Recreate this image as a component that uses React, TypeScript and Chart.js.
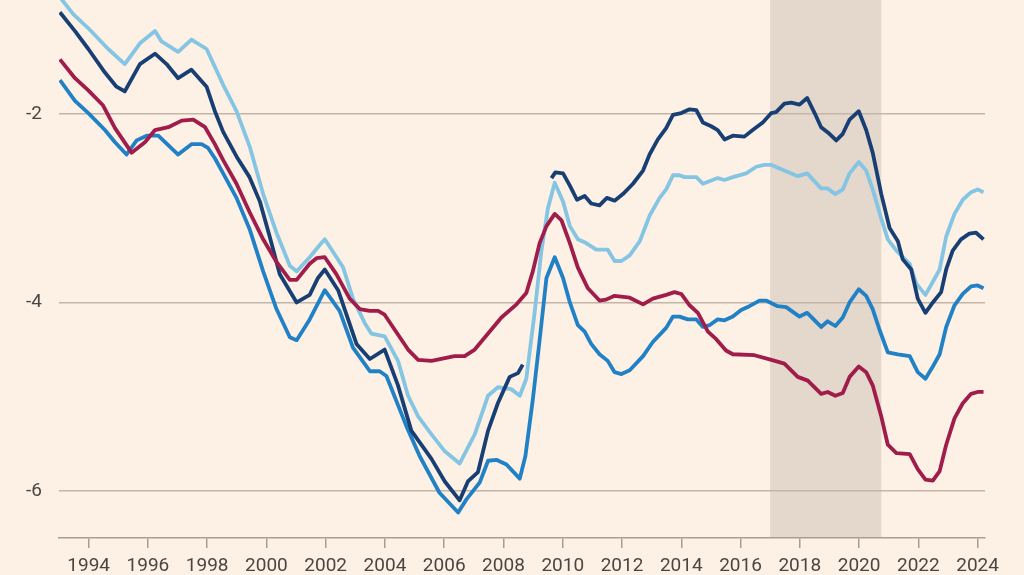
import { useEffect, useRef } from "react";
import { Chart, registerables } from "chart.js";

Chart.register(...registerables);

// [year, value] readings for each series
const navySeries: [number, number | null][] = [
  [1993.03, -0.92], [1993.54, -1.12], [1993.99, -1.31], [1994.55, -1.56], [1994.94, -1.71], [1995.22, -1.76],
  [1995.73, -1.47], [1996.24, -1.36], [1996.63, -1.47], [1997.02, -1.62], [1997.47, -1.53], [1997.98, -1.71],
  [1998.26, -1.97], [1998.54, -2.19], [1998.99, -2.45], [1999.43, -2.67], [1999.78, -2.93], [2000.11, -3.3],
  [2000.45, -3.7], [2001.02, -4.0], [2001.46, -3.92], [2001.74, -3.74], [2001.97, -3.65], [2002.42, -3.87],
  [2003.04, -4.44], [2003.49, -4.6], [2003.99, -4.5], [2004.44, -4.88], [2004.89, -5.36], [2005.57, -5.66],
  [2006.02, -5.9], [2006.52, -6.1], [2006.8, -5.9], [2007.14, -5.8], [2007.48, -5.36], [2007.81, -5.07],
  [2008.21, -4.79], [2008.49, -4.75], [2008.65, -4.66], [2009.1, null], [2009.62, -2.68], [2009.75, -2.62],
  [2010.01, -2.63], [2010.24, -2.76], [2010.48, -2.91], [2010.74, -2.87], [2010.96, -2.95], [2011.24, -2.97],
  [2011.49, -2.89], [2011.75, -2.92], [2012.03, -2.85], [2012.37, -2.74], [2012.71, -2.6], [2012.93, -2.43],
  [2013.21, -2.27], [2013.49, -2.15], [2013.72, -2.01], [2014.0, -1.99], [2014.28, -1.95], [2014.51, -1.96],
  [2014.73, -2.09], [2015.01, -2.13], [2015.23, -2.17], [2015.46, -2.27], [2015.74, -2.23], [2016.13, -2.24],
  [2016.41, -2.17], [2016.75, -2.09], [2017.04, -1.99], [2017.2, -1.98], [2017.48, -1.89], [2017.71, -1.88],
  [2017.99, -1.9], [2018.25, -1.83], [2018.5, -1.99], [2018.72, -2.14], [2019.0, -2.21], [2019.23, -2.28],
  [2019.45, -2.21], [2019.68, -2.06], [2019.99, -1.97], [2020.24, -2.17], [2020.46, -2.41], [2020.75, -2.85],
  [2021.03, -3.21], [2021.31, -3.35], [2021.47, -3.54], [2021.76, -3.65], [2021.98, -3.96], [2022.24, -4.11],
  [2022.49, -4.0], [2022.77, -3.89], [2022.94, -3.65], [2023.16, -3.45], [2023.44, -3.33], [2023.72, -3.27],
  [2023.95, -3.26], [2024.2, -3.33],
];

const lightBlueSeries: [number, number][] = [
  [1993.03, -0.76], [1993.48, -0.94], [1993.99, -1.09], [1994.66, -1.31], [1995.22, -1.47], [1995.73, -1.25],
  [1996.24, -1.12], [1996.46, -1.23], [1997.02, -1.34], [1997.47, -1.21], [1997.98, -1.31], [1998.26, -1.5],
  [1998.54, -1.69], [1998.99, -1.97], [1999.43, -2.34], [1999.89, -2.85], [2000.34, -3.26], [2000.79, -3.61],
  [2001.02, -3.67], [2001.46, -3.52], [2001.8, -3.39], [2001.97, -3.33], [2002.59, -3.63], [2002.92, -3.96],
  [2003.32, -4.22], [2003.54, -4.33], [2003.99, -4.36], [2004.44, -4.62], [2004.78, -4.99], [2005.12, -5.21],
  [2005.57, -5.4], [2006.02, -5.58], [2006.52, -5.71], [2007.03, -5.4], [2007.48, -4.99], [2007.81, -4.9],
  [2008.26, -4.92], [2008.55, -4.99], [2008.77, -4.81], [2009.05, -4.11], [2009.28, -3.45], [2009.5, -3.0],
  [2009.73, -2.73], [2010.01, -2.93], [2010.24, -3.19], [2010.51, -3.33], [2010.79, -3.37], [2011.13, -3.44],
  [2011.52, -3.44], [2011.75, -3.56], [2011.98, -3.56], [2012.26, -3.5], [2012.6, -3.35], [2012.93, -3.08],
  [2013.27, -2.89], [2013.49, -2.8], [2013.72, -2.65], [2013.94, -2.65], [2014.11, -2.67], [2014.51, -2.67],
  [2014.73, -2.74], [2015.23, -2.68], [2015.46, -2.7], [2015.74, -2.67], [2016.19, -2.63], [2016.53, -2.56],
  [2016.81, -2.54], [2017.04, -2.54], [2017.48, -2.6], [2017.93, -2.66], [2018.25, -2.63], [2018.72, -2.79],
  [2018.94, -2.79], [2019.2, -2.85], [2019.45, -2.8], [2019.68, -2.63], [2019.99, -2.51], [2020.24, -2.6],
  [2020.46, -2.8], [2020.75, -3.11], [2020.97, -3.33], [2021.26, -3.45], [2021.71, -3.59], [2021.93, -3.8],
  [2022.24, -3.92], [2022.49, -3.78], [2022.72, -3.65], [2022.94, -3.3], [2023.22, -3.06], [2023.5, -2.91],
  [2023.78, -2.83], [2024.0, -2.8], [2024.2, -2.83],
];

const crimsonSeries: [number, number][] = [
  [1993.03, -1.42], [1993.54, -1.62], [1993.99, -1.75], [1994.49, -1.91], [1994.89, -2.15], [1995.45, -2.41],
  [1995.9, -2.3], [1996.24, -2.17], [1996.69, -2.14], [1997.14, -2.07], [1997.53, -2.06], [1997.93, -2.14],
  [1998.26, -2.32], [1998.54, -2.49], [1998.99, -2.74], [1999.43, -3.04], [1999.89, -3.33], [2000.34, -3.57],
  [2000.79, -3.76], [2001.02, -3.76], [2001.46, -3.59], [2001.69, -3.53], [2001.97, -3.52], [2002.36, -3.7],
  [2002.81, -3.96], [2003.15, -4.07], [2003.49, -4.09], [2003.77, -4.09], [2003.99, -4.13], [2004.33, -4.29],
  [2004.78, -4.5], [2005.12, -4.61], [2005.57, -4.62], [2006.02, -4.59], [2006.35, -4.57], [2006.69, -4.57],
  [2007.03, -4.5], [2007.48, -4.33], [2007.93, -4.16], [2008.44, -4.02], [2008.77, -3.9], [2008.99, -3.67],
  [2009.22, -3.37], [2009.45, -3.19], [2009.73, -3.06], [2009.96, -3.13], [2010.24, -3.37], [2010.51, -3.63],
  [2010.85, -3.85], [2011.24, -3.98], [2011.46, -3.97], [2011.75, -3.93], [2012.26, -3.95], [2012.71, -4.02],
  [2013.04, -3.96], [2013.49, -3.92], [2013.77, -3.89], [2014.0, -3.91], [2014.28, -4.03], [2014.56, -4.11],
  [2014.9, -4.31], [2015.18, -4.39], [2015.51, -4.51], [2015.74, -4.55], [2016.47, -4.56], [2017.04, -4.61],
  [2017.48, -4.65], [2017.93, -4.79], [2018.27, -4.83], [2018.72, -4.97], [2018.94, -4.95], [2019.2, -4.99],
  [2019.45, -4.96], [2019.68, -4.79], [2019.99, -4.68], [2020.24, -4.74], [2020.46, -4.88], [2020.75, -5.21],
  [2020.97, -5.51], [2021.26, -5.6], [2021.71, -5.61], [2021.98, -5.77], [2022.24, -5.88], [2022.49, -5.89],
  [2022.72, -5.79], [2022.94, -5.51], [2023.22, -5.23], [2023.5, -5.07], [2023.78, -4.97], [2024.0, -4.95],
  [2024.2, -4.95],
];

const mediumBlueSeries: [number, number][] = [
  [1993.03, -1.64], [1993.54, -1.86], [1993.99, -1.99], [1994.55, -2.17], [1994.89, -2.3], [1995.28, -2.43],
  [1995.62, -2.28], [1995.96, -2.23], [1996.35, -2.23], [1997.02, -2.43], [1997.47, -2.32], [1997.81, -2.32],
  [1998.03, -2.36], [1998.26, -2.47], [1998.54, -2.63], [1998.99, -2.89], [1999.43, -3.22], [1999.89, -3.67],
  [2000.34, -4.07], [2000.79, -4.37], [2001.02, -4.4], [2001.46, -4.18], [2001.97, -3.87], [2002.47, -4.09],
  [2002.92, -4.48], [2003.49, -4.73], [2003.82, -4.73], [2004.05, -4.78], [2004.72, -5.31], [2005.17, -5.63],
  [2005.84, -6.02], [2006.47, -6.23], [2006.75, -6.09], [2007.2, -5.91], [2007.48, -5.68], [2007.76, -5.67],
  [2008.1, -5.72], [2008.55, -5.87], [2008.74, -5.63], [2008.99, -5.03], [2009.22, -4.4], [2009.45, -3.74],
  [2009.73, -3.52], [2010.01, -3.74], [2010.24, -4.0], [2010.51, -4.24], [2010.74, -4.31], [2010.96, -4.44],
  [2011.24, -4.55], [2011.52, -4.62], [2011.75, -4.74], [2011.98, -4.76], [2012.26, -4.72], [2012.71, -4.57],
  [2013.04, -4.42], [2013.49, -4.27], [2013.72, -4.15], [2013.94, -4.15], [2014.22, -4.18], [2014.51, -4.18],
  [2014.73, -4.26], [2014.96, -4.24], [2015.23, -4.18], [2015.46, -4.19], [2015.74, -4.15], [2016.02, -4.08],
  [2016.3, -4.04], [2016.64, -3.98], [2016.86, -3.98], [2017.25, -4.04], [2017.54, -4.05], [2017.99, -4.15],
  [2018.25, -4.11], [2018.72, -4.26], [2018.94, -4.2], [2019.2, -4.25], [2019.45, -4.16], [2019.68, -4.0],
  [2019.99, -3.86], [2020.24, -3.93], [2020.46, -4.07], [2020.69, -4.29], [2020.97, -4.53], [2021.31, -4.55],
  [2021.71, -4.57], [2021.98, -4.74], [2022.24, -4.81], [2022.49, -4.68], [2022.72, -4.55], [2022.94, -4.26],
  [2023.22, -4.03], [2023.5, -3.91], [2023.78, -3.83], [2024.0, -3.82], [2024.2, -3.85],
];

const xTickYears = [1994, 1996, 1998, 2000, 2002, 2004, 2006, 2008, 2010, 2012, 2014, 2016, 2018, 2020, 2022, 2024];
const yTickValues = [-2, -4, -6];
const shadedPeriod = [2017.0, 2020.75];

const BG = "#fdf0e4";
const SHADE = "#e4d7cb";
const GRID = "#c2b6aa";
const AXIS = "#a99d92";
const TEXT = "#4b4642";
const FONT = "Roboto, 'Noto Sans', sans-serif";

const toPoints = (s: [number, number | null][]) => s.map(([x, y]) => ({ x, y }));

const backgroundPlugin = {
  id: "bgShade",
  beforeDraw(chart: any) {
    const { ctx, chartArea, scales } = chart;
    ctx.save();
    ctx.fillStyle = BG;
    ctx.fillRect(0, 0, chart.width, chart.height);
    const x0 = scales.x.getPixelForValue(shadedPeriod[0]);
    const x1 = scales.x.getPixelForValue(shadedPeriod[1]);
    ctx.fillStyle = SHADE;
    ctx.fillRect(x0, chartArea.top, x1 - x0, chartArea.bottom - chartArea.top);
    ctx.restore();
  },
};

export default function App() {
  const canvasRef = useRef<HTMLCanvasElement | null>(null);

  useEffect(() => {
    const canvas = canvasRef.current;
    if (!canvas) return;
    const line = (data: any, color: string, order: number) => ({
      data,
      borderColor: color,
      borderWidth: 3.8,
      pointRadius: 0,
      tension: 0,
      spanGaps: false,
      borderJoinStyle: "round" as const,
      order,
    });
    const chart = new Chart(canvas, {
      type: "line",
      data: {
        datasets: [
          line(toPoints(crimsonSeries), "#a01c4b", 1),
          line(toPoints(navySeries), "#183f74", 2),
          line(toPoints(lightBlueSeries), "#84c5e4", 3),
          line(toPoints(mediumBlueSeries), "#2081c6", 4),
        ],
      },
      options: {
        responsive: false,
        animation: false,
        maintainAspectRatio: false,
        layout: { padding: { left: 0, right: 39, top: 0, bottom: 0 } },
        plugins: { legend: { display: false }, tooltip: { enabled: false } },
        scales: {
          x: {
            type: "linear",
            min: 1993,
            max: 2024.25,
            afterBuildTicks: (s: any) => {
              s.ticks = xTickYears.map((v) => ({ value: v }));
            },
            afterFit: (s: any) => {
              s.height = 37;
              s.paddingLeft = 0;
              s.paddingRight = 0;
            },
            grid: { drawOnChartArea: false, drawTicks: true, tickLength: 10, color: AXIS, lineWidth: 1.5 },
            border: { display: true, color: AXIS, width: 1.5 },
            ticks: {
              padding: 7,
              color: TEXT,
              font: { family: FONT, size: 19 },
              maxRotation: 0,
              autoSkip: false,
              callback: (v: any) => String(v),
            },
          },
          y: {
            type: "linear",
            min: -6.5,
            max: -0.79,
            afterBuildTicks: (s: any) => {
              s.ticks = yTickValues.map((v) => ({ value: v }));
            },
            afterFit: (s: any) => {
              s.width = 59;
              s.paddingTop = 0;
              s.paddingBottom = 0;
            },
            grid: { color: GRID, lineWidth: 1.5, drawTicks: false },
            border: { display: false },
            ticks: {
              padding: 17,
              color: TEXT,
              font: { family: FONT, size: 19 },
              callback: (v: any) => String(v),
            },
          },
        },
      },
      plugins: [backgroundPlugin],
    });
    return () => chart.destroy();
  }, []);

  return (
    <div style={{ position: "fixed", left: 0, top: 0, width: 1024, height: 575, background: BG }}>
      <canvas ref={canvasRef} width={1024} height={575} style={{ display: "block", width: 1024, height: 575 }} />
    </div>
  );
}
